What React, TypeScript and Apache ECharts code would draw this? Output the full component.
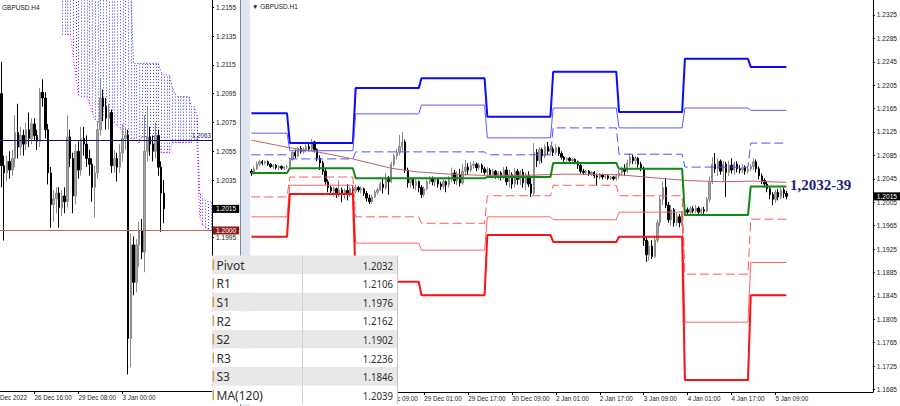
import React, { useEffect, useRef } from "react";
import * as echarts from "echarts";

// ---------- helpers for data units ----------
// candle values are written in pips relative to 1.2000 (price = 1.2000 + pips / 10000)
const PIP_BASE = 1.2;
const pip = (p: number) => Math.round((PIP_BASE + p / 10000) * 100000) / 100000;

// ---------- LEFT PANEL: GBPUSD.H4 ----------
const h4DayNames = ["22 Dec", "23 Dec", "26 Dec", "27 Dec", "28 Dec", "29 Dec", "30 Dec", "2 Jan", "3 Jan", "4 Jan", "5 Jan", "6 Jan", "9 Jan", "10 Jan"];
const h4FirstHour = 16;
const h4CategoryCount = 77;
// [open, close, low, high] in pips
const h4Candles = [
  [95, 45, 30, 117], [45, 40, -7, 52], [40, 48, 34, 52], [48, 42, 36, 55], [42, 50, 38, 56],
  [50, 68, 44, 80], [68, 58, 50, 88], [58, 66, 52, 72], [66, 60, 52, 70], [60, 70, 56, 75],
  [70, 64, 58, 82], [64, 74, 60, 78], [74, 66, 62, 78], [66, 62, 56, 70], [62, 96, 58, 99],
  [96, 92, 86, 105], [92, 70, 64, 96], [70, 40, 32, 74], [40, 18, 2, 44], [18, 22, 6, 28],
  [22, 26, 12, 30], [26, 16, 2, 30], [16, 24, 10, 28], [24, 20, 12, 30], [20, 65, 16, 80],
  [65, 50, 44, 70], [50, 24, 12, 54], [24, 55, 18, 60], [55, 42, 36, 62], [42, 64, 38, 72],
  [64, 60, 52, 72], [60, 50, 44, 66], [50, 46, 38, 56], [46, 30, 20, 50], [30, 40, 9, 45],
  [40, 70, 36, 76], [70, 92, 66, 106], [92, 86, 76, 98], [86, 78, 70, 92], [78, 82, 70, 88],
  [82, 45, 40, 84], [45, 50, 40, 56], [50, 44, 34, 54], [44, 54, 40, 60], [54, 64, 48, 74],
  [64, 66, 56, 72], [66, -75, -100, 70], [-75, -10, -95, -2], [-10, -36, -45, -4], [-36, -10, -43, -6],
  [-10, 0, -25, 6], [0, -15, -20, 8], [-15, 55, -29, 80], [55, 65, 48, 86], [65, 60, 52, 72],
  [60, 55, 48, 66], [55, 66, 50, 75], [66, 44, 38, 70], [44, 26, -1, 48], [26, 15, 5, 35],
];
// Ichimoku cloud (H4), bars 22..76
const h4CloudStart = 22;
const h4CloudLow = [
  1.2136, 1.2136, 1.2136, 1.2136, 1.2122, 1.2108, 1.2094, 1.2093, 1.2093, 1.2093,
  1.2088, 1.2082, 1.2077, 1.2075, 1.2078, 1.2080, 1.2080, 1.2079, 1.2077, 1.2075,
  1.2073, 1.2071, 1.2068, 1.2065, 1.2064, 1.2064, 1.2064, 1.2062, 1.2061, 1.2065,
  1.2065, 1.2065, 1.2065, 1.2065, 1.2065, 1.2065, 1.2054, 1.2054, 1.2054, 1.2054,
  1.2061, 1.2061, 1.2061, 1.2061, 1.2061, 1.2061, 1.2061, 1.2061, 1.2063, 1.2063,
  1.2010, 1.2004, 1.2002, 1.2001, 1.2000,
];
const h4CloudHigh = [
  1.2190, 1.2190, 1.2190, 1.2190, 1.2190, 1.2190, 1.2190, 1.2190, 1.2190, 1.2190,
  1.2190, 1.2185, 1.2185, 1.2180, 1.2180, 1.2180, 1.2175, 1.2175, 1.2175, 1.2170,
  1.2170, 1.2170, 1.2170, 1.2165, 1.2165, 1.2165, 1.2116, 1.2116, 1.2116, 1.2116,
  1.2116, 1.2116, 1.2116, 1.2116, 1.2116, 1.2116, 1.2110, 1.2108, 1.2108, 1.2108,
  1.2100, 1.2095, 1.2093, 1.2093, 1.2093, 1.2093, 1.2093, 1.2086, 1.2086, 1.2080,
  1.2026, 1.2022, 1.2021, 1.2020, 1.2020,
];
const h4Ticks = [1.2155, 1.2135, 1.2115, 1.2095, 1.2075, 1.2055, 1.2035, 1.1995];
const h4TickLabelEvery = 16;
const h4FirstLabelBar = 12;
const h4ExtraLabel = "Dec 2022";
const h4NavyLevel = 1.2063;
const h4RedLevel = 1.2;
const lastPrice = 1.2015;

// ---------- RIGHT PANEL: GBPUSD.H1 ----------
const h1DayNames = ["26 Dec", "27 Dec", "28 Dec", "29 Dec", "30 Dec", "2 Jan", "3 Jan", "4 Jan", "5 Jan", "6 Jan"];
const h1FirstHour = 10;
const h1CategoryCount = 227;
// [open, close, low, high] in pips
const h1Candles = [
  [58, 55, 50, 62], [55, 62, 52, 66], [62, 70, 60, 74], [70, 74, 66, 78], [74, 72, 68, 77],
  [72, 74, 69, 76], [74, 70, 67, 76], [70, 66, 63, 72], [66, 68, 62, 70], [68, 64, 61, 70],
  [64, 66, 60, 68], [66, 63, 60, 68], [63, 65, 60, 67], [65, 66, 62, 69], [66, 78, 64, 80],
  [78, 90, 76, 92], [90, 84, 80, 95], [84, 97, 82, 100], [97, 92, 88, 101], [92, 95, 88, 99],
  [95, 100, 90, 104], [100, 96, 92, 106], [96, 108, 94, 113], [108, 95, 90, 110], [95, 80, 75, 97],
  [80, 72, 60, 85], [72, 58, 52, 76], [58, 40, 35, 62], [40, 30, 22, 44], [30, 24, 18, 34],
  [24, 28, 15, 32], [28, 20, 12, 30], [20, 26, 14, 42], [26, 18, 5, 30], [18, 25, 10, 28],
  [25, 20, 8, 36], [20, 28, 14, 32], [28, 24, 18, 34], [24, 30, 20, 35], [30, 26, 22, 33],
  [26, 28, 20, 32], [28, 20, 16, 30], [20, 12, 6, 24], [12, 6, 2, 18], [6, 14, 3, 18],
  [14, 22, 12, 26], [22, 26, 18, 30], [26, 36, 24, 40], [36, 30, 20, 46], [30, 46, 26, 55],
  [46, 40, 18, 50], [40, 70, 38, 74], [70, 84, 66, 88], [84, 90, 78, 96], [90, 100, 85, 120],
  [100, 108, 92, 125], [108, 60, 55, 112], [60, 38, 30, 64], [38, 44, 30, 48], [44, 34, 28, 47],
  [34, 40, 26, 44], [40, 30, 22, 42], [30, 18, 12, 34], [18, 28, 14, 32], [28, 40, 25, 44],
  [40, 45, 36, 50], [45, 40, 34, 49], [40, 44, 32, 47], [44, 36, 30, 46], [36, 32, 26, 40],
  [32, 40, 28, 44], [40, 35, 22, 42], [35, 46, 30, 50], [46, 55, 40, 64], [55, 42, 36, 60],
  [42, 52, 34, 58], [52, 38, 32, 62], [38, 58, 35, 70], [58, 65, 50, 77], [65, 60, 52, 72],
  [60, 68, 56, 74], [68, 70, 62, 75], [70, 64, 58, 73], [64, 68, 60, 72], [68, 62, 55, 71],
  [62, 56, 52, 66], [56, 60, 50, 65], [60, 52, 48, 63], [52, 58, 46, 62], [58, 50, 45, 60],
  [50, 55, 44, 58], [55, 48, 42, 58], [48, 60, 44, 65], [60, 40, 34, 66], [40, 52, 30, 60],
  [52, 36, 28, 56], [36, 58, 30, 64], [58, 44, 35, 62], [44, 56, 34, 60], [56, 38, 30, 62],
  [38, 50, 26, 56], [50, 36, 31, 58], [36, 20, 14, 48], [20, 90, 16, 106], [90, 76, 65, 96],
  [76, 95, 70, 99], [95, 84, 72, 98], [84, 100, 80, 104], [100, 92, 86, 108], [92, 96, 88, 102],
  [96, 90, 84, 100], [90, 98, 86, 104], [98, 88, 84, 100], [88, 82, 78, 92], [82, 78, 74, 84],
  [78, 80, 74, 82], [80, 76, 72, 82], [76, 78, 72, 80], [78, 74, 70, 80], [74, 68, 62, 76],
  [68, 58, 54, 70], [58, 56, 52, 62], [56, 58, 52, 60], [58, 54, 50, 60], [54, 56, 50, 58],
  [56, 50, 46, 58], [50, 48, 34, 54], [48, 52, 44, 55], [52, 48, 44, 54], [48, 50, 45, 52],
  [50, 46, 43, 52], [46, 48, 43, 50], [48, 45, 42, 50], [45, 50, 42, 52], [50, 55, 45, 60],
  [55, 62, 50, 66], [62, 58, 50, 70], [58, 72, 55, 78], [72, 82, 66, 89], [82, 76, 70, 86],
  [76, 80, 70, 84], [80, 70, 64, 82], [70, 63, 58, 74], [63, -60, -70, 66], [-60, -85, -97, -55],
  [-85, -70, -95, -62], [-70, -88, -92, -60], [-88, -60, -90, -52], [-60, -30, -64, -25], [-30, 10, -36, 15],
  [10, 30, 0, 40], [30, 0, -5, 46], [0, -25, -30, 5], [-25, -8, -35, 0], [-8, -30, -37, -5],
  [-30, -20, -36, -12], [-20, -30, -38, -15], [-30, -15, -35, -10], [-15, -8, -18, -3], [-8, -12, -16, -4],
  [-12, -6, -16, -2], [-6, -10, -14, -2], [-10, -5, -14, 0], [-5, -12, -16, -2], [-12, -8, -17, -4],
  [-8, -10, -15, -3], [-10, 10, -12, 14], [10, 40, 5, 48], [40, 70, 36, 82], [70, 62, 55, 89],
  [62, 75, 50, 80], [75, 58, 52, 78], [58, 70, 40, 75], [70, 56, 14, 74], [56, 68, 50, 76],
  [68, 60, 54, 80], [60, 70, 52, 74], [70, 62, 56, 75], [62, 60, 54, 68], [60, 64, 55, 70],
  [64, 58, 52, 68], [58, 62, 54, 66], [62, 66, 58, 70], [66, 74, 60, 80], [74, 62, 56, 78],
  [62, 50, 44, 66], [50, 42, 36, 54], [42, 36, 30, 46], [36, 28, 22, 40], [28, 18, 10, 32],
  [18, 10, 0, 22], [10, 22, 4, 26], [22, 14, 8, 28], [14, 26, 10, 30], [26, 20, 12, 30],
  [20, 15, 10, 24],
];
// first bar of each trading day (26 Dec partial ... 5 Jan partial)
const dayStartBars = [0, 14, 38, 62, 86, 110, 134, 158, 182];
const lastBar = 195;
// daily pivot levels
const pivotR3 = [1.2157, 1.2106, 1.22, 1.2217, 1.2151, 1.2228, 1.2159, 1.225, 1.2236];
const pivotR2 = [1.2123, 1.2093, 1.2156, 1.2171, 1.2115, 1.2166, 1.2132, 1.2166, 1.2162];
const pivotR1 = [1.2086, 1.2079, 1.2091, 1.2091, 1.2086, 1.2132, 1.2087, 1.2065, 1.2106];
const pivotP = [1.2055, 1.2063, 1.2046, 1.2046, 1.2048, 1.2072, 1.2062, 1.1983, 1.2032];
const pivotS1 = [1.2014, 1.2048, 1.198, 1.1969, 1.2016, 1.2034, 1.2016, 1.1882, 1.1976];
const pivotS2 = [1.198, 1.2034, 1.1935, 1.1923, 1.198, 1.1975, 1.1988, 1.18, 1.1902];
const pivotS3 = [1.1946, 1.2019, 1.1869, 1.1846, 1.1949, 1.1937, 1.1946, 1.1701, 1.1846];
// MA(120) readings
const maBars = [0, 14, 24, 36, 51, 60, 72, 84, 100, 115, 134, 146, 159, 171, 183, 195];
const maValues = [1.2111, 1.2098, 1.2091, 1.208, 1.2063, 1.2057, 1.2053, 1.2051, 1.2051, 1.2053, 1.2052, 1.2047, 1.2042, 1.204, 1.2041, 1.2039];
const h1Ticks = [1.2325, 1.2285, 1.2245, 1.2205, 1.2165, 1.2125, 1.2085, 1.2045, 1.2005, 1.1965, 1.1925, 1.1885, 1.1845, 1.1805, 1.1765, 1.1725, 1.1685];
const h1TickLabelEvery = 16;
const h1FirstLabelBar = 47;
// table
const tableLabels = ["Pivot", "R1", "S1", "R2", "S2", "R3", "S3", "MA(120)"];
const tableValues = ["1.2032", "1.2106", "1.1976", "1.2162", "1.1902", "1.2236", "1.1846", "1.2039"];
const levelTag = "1,2032-39";
const titleH4 = "GBPUSD.H4";
const titleH1 = "▼ GBPUSD.H1";

function buildCats(days: string[], firstHour: number, step: number, count: number) {
  const out: string[] = [];
  days.forEach((d, k) => {
    for (let h = k === 0 ? firstHour : 0; h < 24; h += step) out.push(`${d} ${String(h).padStart(2, "0")}:00`);
  });
  return out.slice(0, count);
}

function stepData(vals: number[]) {
  const out: number[][] = [];
  vals.forEach((v, d) => {
    const s = dayStartBars[d];
    const e = d + 1 < dayStartBars.length ? dayStartBars[d + 1] - 1 : lastBar;
    out.push([s, v], [e, v]);
  });
  return out;
}

const AX_FONT = "'Liberation Sans', Arial, sans-serif";
const TBL_FONT = "'Noto Sans', 'Open Sans', sans-serif";
const HIDDEN_LINE = { color: "rgba(0,0,0,0)", width: 1, type: "solid" };

export default function App() {
  const ref = useRef<HTMLDivElement>(null);
  useEffect(() => {
    document.body.style.margin = "0";
    if (!ref.current) return;
    const chart = echarts.init(ref.current, null, { renderer: "svg", width: 900, height: 406 });
    const h4Cats = buildCats(h4DayNames, h4FirstHour, 4, h4CategoryCount);
    const h1Cats = buildCats(h1DayNames, h1FirstHour, 1, h1CategoryCount);
    const h4LastBar = h4Candles.length - 1;

    const h4Interval = (i: number) => i % h4TickLabelEvery === h4FirstLabelBar % h4TickLabelEvery && i <= h4LastBar && i >= h4FirstLabelBar;
    const h1Interval = (i: number) => i % h1TickLabelEvery === h1FirstLabelBar % h1TickLabelEvery && i <= lastBar && i >= h1FirstLabelBar;

    const pivots = [
      { data: pivotR3, color: "#0a0aff", width: 2, type: "solid" },
      { data: pivotR2, color: "#5c5cff", width: 1, type: "solid" },
      { data: pivotR1, color: "#5050ff", width: 1, type: [9, 4] },
      { data: pivotP, color: "#108a10", width: 2, type: "solid" },
      { data: pivotS1, color: "#ff5a5a", width: 1, type: [9, 4] },
      { data: pivotS2, color: "#ff6464", width: 1, type: "solid" },
      { data: pivotS3, color: "#ff1010", width: 2, type: "solid" },
    ];

    const boxLabel = (text: string, bg: string) => ({
      show: true, position: "end", formatter: text, color: "#fff", backgroundColor: bg,
      padding: [1, 3, 0, 3], fontSize: 6.6, fontFamily: AX_FONT, distance: 1,
    });

    const tableEls: any[] = [];
    const rowTop = 255.5, rowH = 18.6, tableX = 212, colX = 302, tableR = 397;
    tableLabels.forEach((lab, r) => {
      const y = rowTop + r * rowH;
      tableEls.push({ type: "rect", z: 100, shape: { x: tableX, y, width: tableR - tableX, height: rowH }, style: { fill: r % 2 === 0 ? "#e8e8e8" : "#ffffff" } });
      tableEls.push({ type: "rect", z: 101, shape: { x: tableX + 0.5, y: y + 4, width: 1.6, height: rowH - 8 }, style: { fill: "#c9a35a" } });
      tableEls.push({ type: "text", z: 101, x: tableX + 4.5, y: y + rowH / 2 + 0.5, style: { text: lab, fontSize: 12, fontFamily: TBL_FONT, fill: "#2e2e2e", align: "left", textAlign: "left", verticalAlign: "middle", textVerticalAlign: "middle" } });
      tableEls.push({ type: "text", z: 101, x: tableR - 4, y: y + rowH / 2 + 0.5, scaleX: 0.84, style: { text: tableValues[r], fontSize: 11.5, fontFamily: TBL_FONT, fill: "#2e2e2e", align: "right", textAlign: "right", verticalAlign: "middle", textVerticalAlign: "middle" } });
    });
    tableEls.push({ type: "line", z: 101, shape: { x1: colX + 0.5, y1: rowTop, x2: colX + 0.5, y2: rowTop + 8 * rowH }, style: { stroke: "#d2d2d2", lineWidth: 1 } });
    tableEls.push({ type: "line", z: 101, shape: { x1: tableR + 0.5, y1: rowTop, x2: tableR + 0.5, y2: rowTop + 8 * rowH }, style: { stroke: "#c4c4c4", lineWidth: 1 } });

    const option: any = {
      animation: false,
      backgroundColor: "#ffffff",
      grid: [
        { left: 0, top: 0, width: 212, height: 391 },
        { left: 250, top: 0, width: 623, height: 392 },
      ],
      xAxis: [
        {
          type: "category", gridIndex: 0, data: h4Cats, boundaryGap: true,
          axisLine: { show: true, lineStyle: { color: "#000", width: 1 } },
          axisTick: { show: true, interval: h4Interval, alignWithLabel: true, length: 3, lineStyle: { color: "#000" } },
          axisLabel: { interval: h4Interval, align: "left", fontSize: 6.3, fontFamily: AX_FONT, color: "#222", margin: 3 },
          splitLine: { show: false },
        },
        {
          type: "category", gridIndex: 1, data: h1Cats, boundaryGap: true,
          axisLine: { show: true, lineStyle: { color: "#000", width: 1 } },
          axisTick: { show: true, interval: (i: number) => i % h1TickLabelEvery === h1FirstLabelBar % h1TickLabelEvery && i <= lastBar, alignWithLabel: true, length: 3, lineStyle: { color: "#000" } },
          axisLabel: { interval: h1Interval, align: "left", fontSize: 6.3, fontFamily: AX_FONT, color: "#222", margin: 3 },
          splitLine: { show: false },
        },
      ],
      yAxis: [
        {
          type: "value", gridIndex: 0, position: "right", min: 1.18885, max: 1.21601,
          axisLine: { show: true, lineStyle: { color: "#000" } },
          axisTick: { show: true, length: 2, customValues: h4Ticks, lineStyle: { color: "#000" } },
          axisLabel: { customValues: h4Ticks, formatter: (v: number) => v.toFixed(4), fontSize: 6.6, fontFamily: AX_FONT, color: "#222", margin: 4 },
          splitLine: { show: false },
        },
        {
          type: "value", gridIndex: 1, position: "right", min: 1.16806, max: 1.23506,
          axisLine: { show: true, lineStyle: { color: "#000" } },
          axisTick: { show: true, length: 2, customValues: h1Ticks, lineStyle: { color: "#000" } },
          axisLabel: { customValues: h1Ticks, formatter: (v: number) => v.toFixed(4), fontSize: 6.6, fontFamily: AX_FONT, color: "#222", margin: 4 },
          splitLine: { show: false },
        },
      ],
      series: [
        // ---- H4 cloud hatch ----
        {
          type: "custom", xAxisIndex: 0, yAxisIndex: 0, clip: true, z: 1, silent: true,
          data: h4CloudLow.map((lo, k) => [h4CloudStart + k, lo, h4CloudHigh[k]]),
          encode: { x: 0, y: [1, 2] },
          renderItem: (_p: any, api: any) => {
            const a = api.coord([api.value(0), api.value(1)]);
            const b = api.coord([api.value(0), api.value(2)]);
            const x = Math.round(a[0]) + 0.5;
            return { type: "line", shape: { x1: x, y1: a[1], x2: x, y2: b[1] }, style: { stroke: "#3a3aff", lineWidth: 1, lineDash: [1, 2] } };
          },
        },
        {
          type: "line", xAxisIndex: 0, yAxisIndex: 0, symbol: "none", z: 2, silent: true,
          data: h4CloudLow.map((v, k) => [h4CloudStart + k, v]),
          lineStyle: { color: "#ff00ff", width: 1, type: [1, 2] },
        },
        {
          type: "line", xAxisIndex: 0, yAxisIndex: 0, symbol: "none", z: 2, silent: true,
          data: h4CloudHigh.map((v, k) => [h4CloudStart + k, v]),
          lineStyle: { color: "#2a2aff", width: 1, type: [1, 2] },
        },
        // ---- H4 candles ----
        {
          type: "candlestick", xAxisIndex: 0, yAxisIndex: 0, z: 3, barWidth: 2,
          data: h4Candles.map((c) => c.map(pip)),
          itemStyle: { color: "#a6a6a6", color0: "#000000", borderColor: "#8a8a8a", borderColor0: "#000000", borderWidth: 1 },
          markLine: {
            symbol: ["none", "none"], silent: true, animation: false, precision: 5,
            data: [
              { yAxis: h4NavyLevel, lineStyle: { color: "#10107a", width: 1, type: "solid" }, label: { show: true, position: "insideEndTop", formatter: h4NavyLevel.toFixed(4), color: "#10107a", fontSize: 6.3, fontFamily: AX_FONT, distance: 1 } },
              { yAxis: h4RedLevel, lineStyle: { color: "#c86060", width: 1, type: "solid" }, label: boxLabel(h4RedLevel.toFixed(4), "#8c1c1c") },
              { yAxis: lastPrice, lineStyle: HIDDEN_LINE, label: boxLabel(lastPrice.toFixed(4), "#000000") },
            ],
          },
        },
        // ---- H1 candles ----
        {
          type: "candlestick", xAxisIndex: 1, yAxisIndex: 1, z: 2, barWidth: 1.8,
          data: h1Candles.map((c) => c.map(pip)),
          itemStyle: { color: "#a6a6a6", color0: "#000000", borderColor: "#8a8a8a", borderColor0: "#000000", borderWidth: 1 },
          markLine: {
            symbol: ["none", "none"], silent: true, animation: false, precision: 5,
            data: [
              { yAxis: lastPrice, lineStyle: HIDDEN_LINE, label: boxLabel(lastPrice.toFixed(4), "#000000") },
            ],
          },
        },
        // ---- MA(120) ----
        {
          type: "line", xAxisIndex: 1, yAxisIndex: 1, symbol: "none", z: 4, silent: true,
          data: maBars.map((b, k) => [b, maValues[k]]),
          lineStyle: { color: "#bb6464", width: 1 },
        },
        // ---- pivot levels ----
        ...pivots.map((p) => ({
          type: "line", xAxisIndex: 1, yAxisIndex: 1, symbol: "none", z: 5, silent: true,
          data: stepData(p.data),
          lineStyle: { color: p.color, width: p.width, type: p.type },
        })),
      ],
      graphic: [
        // separator between the two windows
        { type: "rect", z: 90, shape: { x: 241, y: 0, width: 9, height: 406 }, style: { fill: "#dfe6ef" } },
        { type: "line", z: 91, shape: { x1: 240.5, y1: 0, x2: 240.5, y2: 406 }, style: { stroke: "#7d8a99", lineWidth: 1 } },
        { type: "text", z: 92, x: 2, y: 7, style: { text: titleH4, fontSize: 6.5, fontFamily: AX_FONT, fill: "#222", align: "left", textAlign: "left", verticalAlign: "middle", textVerticalAlign: "middle" } },
        { type: "text", z: 92, x: 252, y: 6, style: { text: titleH1, fontSize: 6.5, fontFamily: AX_FONT, fill: "#222", align: "left", textAlign: "left", verticalAlign: "middle", textVerticalAlign: "middle" } },
        { type: "text", z: 92, x: 0, y: 394, style: { text: h4ExtraLabel, fontSize: 6.3, fontFamily: AX_FONT, fill: "#222", align: "left", textAlign: "left", verticalAlign: "top", textVerticalAlign: "top" } },
        { type: "text", z: 92, x: 790, y: 185, style: { text: levelTag, fontSize: 15, fontWeight: "bold", fontFamily: "'Liberation Serif', 'DejaVu Serif', serif", fill: "#1c1c7c", align: "left", textAlign: "left", verticalAlign: "middle", textVerticalAlign: "middle" } },
        ...tableEls,
      ],
    };
    chart.setOption(option);
    return () => chart.dispose();
  }, []);
  return <div ref={ref} style={{ width: 900, height: 406 }} />;
}
